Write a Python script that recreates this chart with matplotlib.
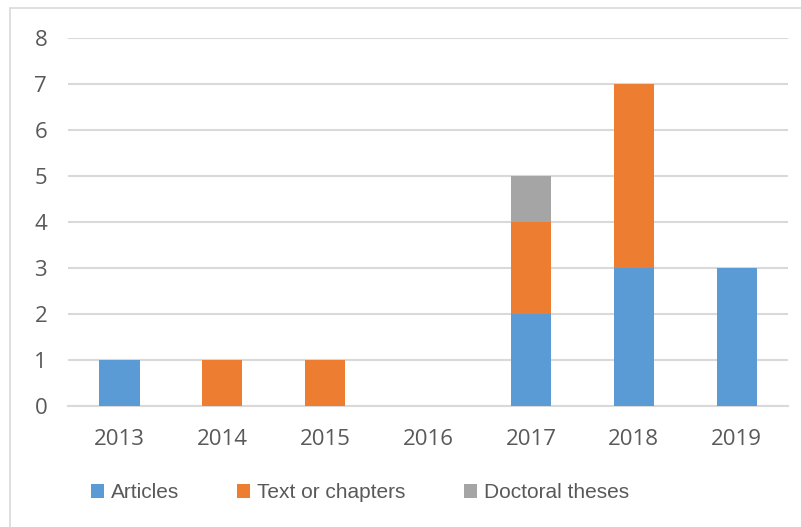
import numpy as np
import matplotlib.pyplot as plt
from matplotlib.patches import Rectangle

years = ['2013', '2014', '2015', '2016', '2017', '2018', '2019']
articles = [1, 0, 0, 0, 2, 3, 3]
chapters = [0, 1, 1, 0, 2, 4, 0]
theses = [0, 0, 0, 0, 1, 0, 0]

blue = '#5B9BD5'
orange = '#ED7D31'
gray = '#A5A5A5'
txt = '#595959'

fig = plt.figure(figsize=(8.01, 5.27), dpi=100)
ax = fig.add_axes([0.0849, 0.2296, 0.899, 0.6983])

# outer chart border (only top/left visible in the crop)
fig.patches.append(Rectangle((10 / 801, -0.1), 1.2, 1 - 8 / 527 + 0.1,
                             transform=fig.transFigure, fill=False,
                             edgecolor='#D9D9D9', linewidth=1.2))

x = np.arange(len(years))
a = np.array(articles)
c = np.array(chapters)
t = np.array(theses)
w = 0.39
ax.bar(x, a, w, color=blue, label='Articles', zorder=3)
ax.bar(x, c, w, bottom=a, color=orange, label='Text or chapters', zorder=3)
ax.bar(x, t, w, bottom=a + c, color=gray, label='Doctoral theses', zorder=3)

ax.set_xlim(-0.5, len(years) - 0.5)
ax.set_ylim(0, 8)
ax.set_yticks(range(0, 9))
ax.set_xticks(x)
ax.set_xticklabels(years)
ax.yaxis.grid(True, color='#D9D9D9', linewidth=1.5, zorder=0)
for s in ['top', 'right', 'left']:
    ax.spines[s].set_visible(False)
ax.spines['bottom'].set_color('#D9D9D9')
ax.spines['bottom'].set_linewidth(1.5)
ax.tick_params(length=0, labelsize=16, labelcolor=txt)
ax.tick_params(axis='x', pad=16.5)
ax.tick_params(axis='y', pad=15)
for lab in ax.get_xticklabels() + ax.get_yticklabels():
    lab.set_family('Open Sans')

ax.legend(loc='center left', bbox_to_anchor=(0.006, -0.236), ncol=3, frameon=False,
          prop={'family': 'Liberation Sans', 'size': 15}, labelcolor=txt,
          handlelength=0.61, handleheight=0.7, handletextpad=0.34,
          columnspacing=2.8, bbox_transform=ax.transAxes)

fig.savefig('out.png', dpi=100)
